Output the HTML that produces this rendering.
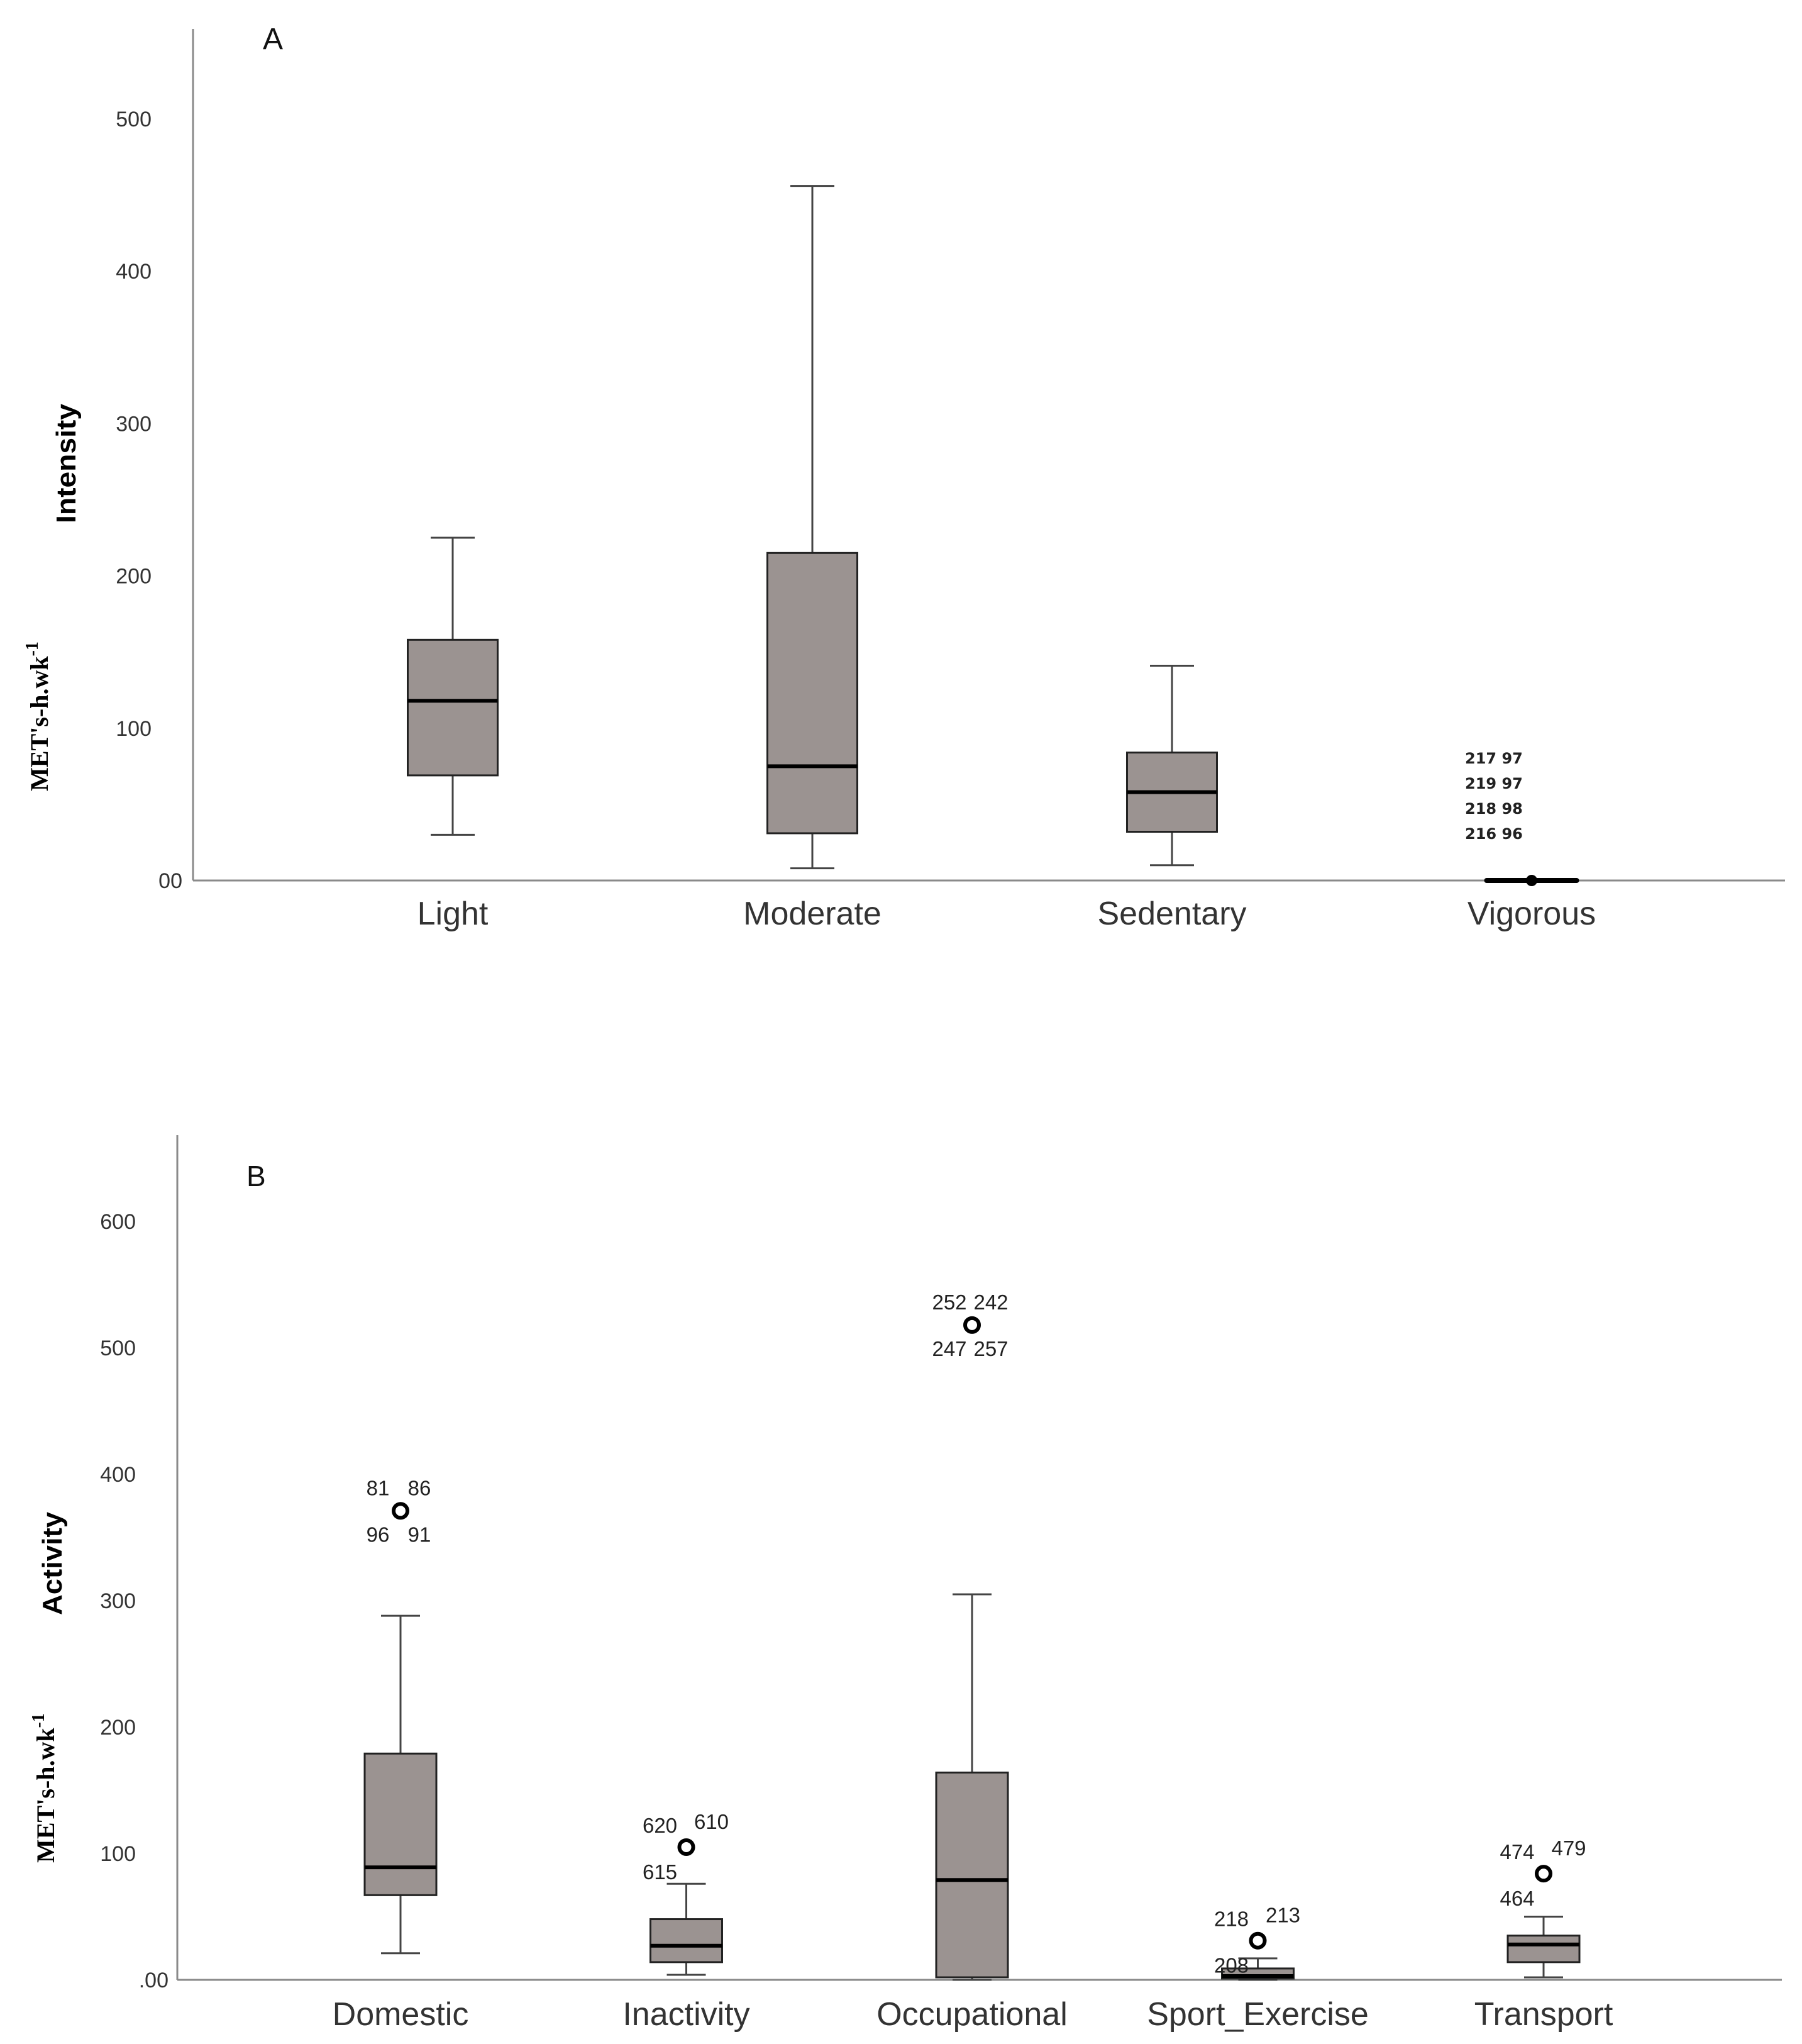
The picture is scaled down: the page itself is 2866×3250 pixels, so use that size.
<!DOCTYPE html>
<html><head><meta charset="utf-8"><style>
html,body{margin:0;padding:0;background:#fff;}
svg{display:block;}
</style></head><body>
<svg id="chart" width="2866" height="3250" viewBox="0 0 2866 3250" xmlns="http://www.w3.org/2000/svg">
<rect x="0" y="0" width="2866" height="3250" fill="#fff"/>
<g id="gA"></g>
<g id="gB"></g>
</svg>
<script>
// ---------- Panel A data ----------
const catsA = ["Light","Moderate","Sedentary","Vigorous"];
const hiA  = [225, 456, 141, 0];
const q3A  = [158, 215, 84, 0];
const medA = [118, 75, 58, 0];
const q1A  = [69, 31, 32, 0];
const loA  = [30, 8, 10, 0];
const ticksA = [0,100,200,300,400,500];
const tickLabelsA = ["00","100","200","300","400","500"];
const vigOutlierVal = 0;
const vigOutlierLabels = ["217  97","219  97","218  98","216  96"];

// ---------- Panel B data ----------
const catsB = ["Domestic","Inactivity","Occupational","Sport_Exercise","Transport"];
const hiB  = [288, 76, 305, 17, 50];
const q3B  = [179, 48, 164, 9, 35];
const medB = [89, 27, 79, 3, 28];
const q1B  = [67, 14, 2, 1, 14];
const loB  = [21, 4, 0, 0, 2];
const outB = [371, 105, 518, 31, 84];
const outLabelsB = [["81","86","96","91"],["620","610","615"],["252","242","247","257"],["218","213","208"],["474","479","464"]];
const ticksB = [0,100,200,300,400,500,600];
const tickLabelsB = [".00","100","200","300","400","500","600"];

const NS="http://www.w3.org/2000/svg";
function mk(parent, tag, attrs, text){
  const e=document.createElementNS(NS,tag);
  for(const k in attrs) e.setAttribute(k, attrs[k]);
  if(text!==undefined) e.textContent=text;
  parent.appendChild(e); return e;
}

function panel(g, cfg){
  const y = v => cfg.base - v*cfg.per/100;
  const x = i => cfg.x0 + i*cfg.step;
  const ax=mk(g,'line',{x1:cfg.ax,y1:cfg.top,x2:cfg.ax,y2:cfg.base,stroke:'#8a8a8a','stroke-width':3});
   
  const bx=mk(g,'line',{x1:cfg.ax,y1:cfg.base,x2:cfg.right,y2:cfg.base,stroke:'#8a8a8a','stroke-width':3});
   
  cfg.ticks.forEach((t,i)=>{
    const isZero = t===0;
    const el=mk(g,'text',{x: isZero?cfg.zeroX:cfg.tickX, y:y(t)+12, 'text-anchor':'end','font-family':'Liberation Sans, sans-serif','font-size':34,fill:'#333'}, cfg.tickLabels[i]);
     
  });
  cfg.cats.forEach((c,i)=>{
    const cx=x(i);
    const grp=mk(g,'g',{});
     
    const bw=cfg.bw, cw=cfg.cw;
    if(cfg.hi[i]-cfg.lo[i] > 0.5){
      mk(grp,'line',{x1:cx,y1:y(cfg.hi[i]),x2:cx,y2:y(cfg.q3[i]),stroke:'#444','stroke-width':3});
      mk(grp,'line',{x1:cx,y1:y(cfg.q1[i]),x2:cx,y2:y(cfg.lo[i]),stroke:'#444','stroke-width':3});
      mk(grp,'line',{x1:cx-cw/2,y1:y(cfg.hi[i]),x2:cx+cw/2,y2:y(cfg.hi[i]),stroke:'#444','stroke-width':3});
      mk(grp,'line',{x1:cx-cw/2,y1:y(cfg.lo[i]),x2:cx+cw/2,y2:y(cfg.lo[i]),stroke:'#444','stroke-width':3});
      mk(grp,'rect',{x:cx-bw/2,y:y(cfg.q3[i]),width:bw,height:Math.max(2,y(cfg.q1[i])-y(cfg.q3[i])),fill:'#9b9391',stroke:'#222','stroke-width':3});
      mk(grp,'line',{x1:cx-bw/2,y1:y(cfg.med[i]),x2:cx+bw/2,y2:y(cfg.med[i]),stroke:'#000','stroke-width':6});
    } else {
      mk(grp,'line',{x1:cx-bw/2,y1:y(cfg.med[i]),x2:cx+bw/2,y2:y(cfg.med[i]),stroke:'#000','stroke-width':8,'stroke-linecap':'round'});
    }
    const lab=mk(g,'text',{x:cx,y:cfg.labY,'text-anchor':'middle','font-family':'Liberation Sans, sans-serif','font-size':52,fill:'#333'},c);
     
  });
  return {x,y};
}

// Panel A
const gA=document.getElementById('gA');
const sA=panel(gA,{ax:307,top:46,base:1400,right:2839,per:242.2,x0:720,step:572,bw:143,cw:70,
  cats:catsA,hi:hiA,q3:q3A,med:medA,q1:q1A,lo:loA,ticks:ticksA,tickLabels:tickLabelsA,tickX:241,zeroX:290,labY:1470});
{
  const cx=sA.x(3), cy=sA.y(vigOutlierVal);
  const d=mk(gA,'circle',{cx:cx,cy:cy,r:9,fill:'#000'});
   
  vigOutlierLabels.forEach((t,k)=>{
    const el=mk(gA,'text',{x:cx-106,y:1214+k*40,'font-family':'DejaVu Sans, sans-serif','font-weight':'bold','font-size':24,fill:'#222','xml:space':'preserve'},t);
     
  });
}
{
  let t=mk(gA,'text',{x:418,y:78,'font-family':'Liberation Sans, sans-serif','font-size':48,fill:'#111'},'A');
   
  t=mk(gA,'text',{x:0,y:0,transform:'translate(120,737) rotate(-90)','text-anchor':'middle','font-family':'Liberation Sans, sans-serif','font-weight':'bold','font-size':44,fill:'#000',textLength:190,lengthAdjust:'spacingAndGlyphs'},'Intensity');
   
  t=mk(gA,'text',{x:0,y:0,transform:'translate(76,1139) rotate(-90)','text-anchor':'middle','font-family':'Liberation Serif, serif','font-weight':'bold','font-size':40,fill:'#000'});
   
  t.innerHTML="MET's-h.wk<tspan dy='-16' font-size='28'>-1</tspan>";
}

// Panel B
const gB=document.getElementById('gB');
const sB=panel(gB,{ax:282,top:1805,base:3148,right:2834,per:201,x0:637,step:454.5,bw:114,cw:62,
  cats:catsB,hi:hiB,q3:q3B,med:medB,q1:q1B,lo:loB,ticks:ticksB,tickLabels:tickLabelsB,tickX:216,zeroX:268,labY:3220});
const offs4=[[-36,-36],[30,-36],[-36,38],[30,38]];
const offs3=[[-42,-34],[40,-40],[-42,40]];
outB.forEach((v,i)=>{
  const cx=sB.x(i), cy=sB.y(v);
  const c=mk(gB,'circle',{cx:cx,cy:cy,r:11,fill:'none',stroke:'#000','stroke-width':6});
   
  const offs = outLabelsB[i].length===4?offs4:offs3;
  outLabelsB[i].forEach((t,k)=>{
    const el=mk(gB,'text',{x:cx+offs[k][0],y:cy+offs[k][1]+11,'text-anchor':'middle','font-family':'Liberation Sans, sans-serif','font-size':33,fill:'#222'},t);
     
  });
});
{
  let t=mk(gB,'text',{x:392,y:1886,'font-family':'Liberation Sans, sans-serif','font-size':46,fill:'#111'},'B');
   
  t=mk(gB,'text',{x:0,y:0,transform:'translate(98,2486) rotate(-90)','text-anchor':'middle','font-family':'Liberation Sans, sans-serif','font-weight':'bold','font-size':44,fill:'#000',textLength:164,lengthAdjust:'spacingAndGlyphs'},'Activity');
   
  t=mk(gB,'text',{x:0,y:0,transform:'translate(86,2843) rotate(-90)','text-anchor':'middle','font-family':'Liberation Serif, serif','font-weight':'bold','font-size':40,fill:'#000'});
   
  t.innerHTML="MET's-h.wk<tspan dy='-16' font-size='28'>-1</tspan>";
}
</script>
</body></html>
